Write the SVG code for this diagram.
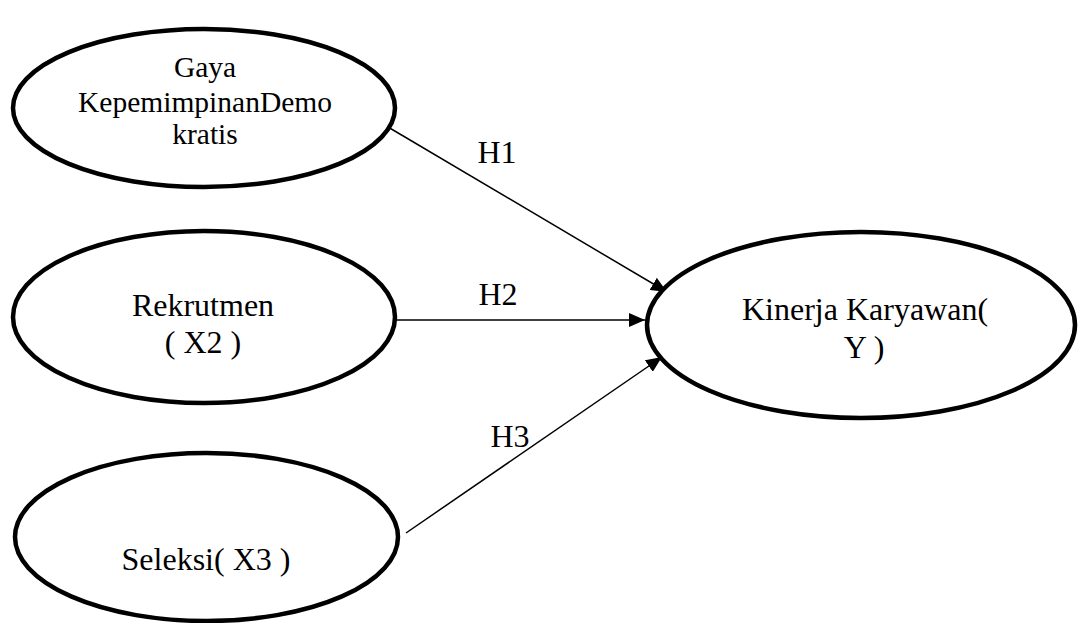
<svg xmlns="http://www.w3.org/2000/svg" width="1078" height="623" viewBox="0 0 1078 623">
  <style>
    .node { fill: #ffffff; stroke: #000000; stroke-width: 4.5; }
    .lbl { font-family: "Liberation Serif", "Times New Roman", serif; font-size: 32px; fill: #000000; text-anchor: middle; }
    .lbl1 { font-size: 29.5px; }
    .edge { stroke: #000000; stroke-width: 1.5; fill: none; marker-end: url(#arrow); }
  </style>
  <defs>
    <marker id="arrow" markerUnits="userSpaceOnUse" markerWidth="16" markerHeight="14" refX="16" refY="7" orient="auto">
      <path d="M0,0 L16,7 L0,14 Z" fill="#000000"/>
    </marker>
  </defs>
  <rect width="1078" height="623" fill="#ffffff"/>

  <g id="connectors">
    <line class="edge" x1="388" y1="127" x2="667" y2="292"/>
    <line class="edge" x1="395" y1="320" x2="645" y2="320"/>
    <line class="edge" x1="406" y1="533" x2="662" y2="357"/>
    <text class="lbl" x="497" y="163">H1</text>
    <text class="lbl" x="498" y="305">H2</text>
    <text class="lbl" x="510" y="447">H3</text>
  </g>

  <g id="node-x1">
    <ellipse class="node" cx="204" cy="108" rx="191" ry="79"/>
    <text class="lbl lbl1" x="205" y="77">Gaya</text>
    <text class="lbl lbl1" x="205" y="112">KepemimpinanDemo</text>
    <text class="lbl lbl1" x="205" y="144">kratis</text>
  </g>

  <g id="node-x2">
    <ellipse class="node" cx="204" cy="317" rx="191" ry="86"/>
    <text class="lbl" x="203" y="316">Rekrutmen</text>
    <text class="lbl" x="203" y="353">( X2 )</text>
  </g>

  <g id="node-x3">
    <ellipse class="node" cx="206.5" cy="537" rx="191.5" ry="84"/>
    <text class="lbl" x="206" y="570">Seleksi( X3 )</text>
  </g>

  <g id="node-y">
    <ellipse class="node" cx="861" cy="325" rx="214" ry="93"/>
    <text class="lbl" x="865" y="320">Kinerja Karyawan(</text>
    <text class="lbl" x="864" y="358">Y )</text>
  </g>
</svg>
